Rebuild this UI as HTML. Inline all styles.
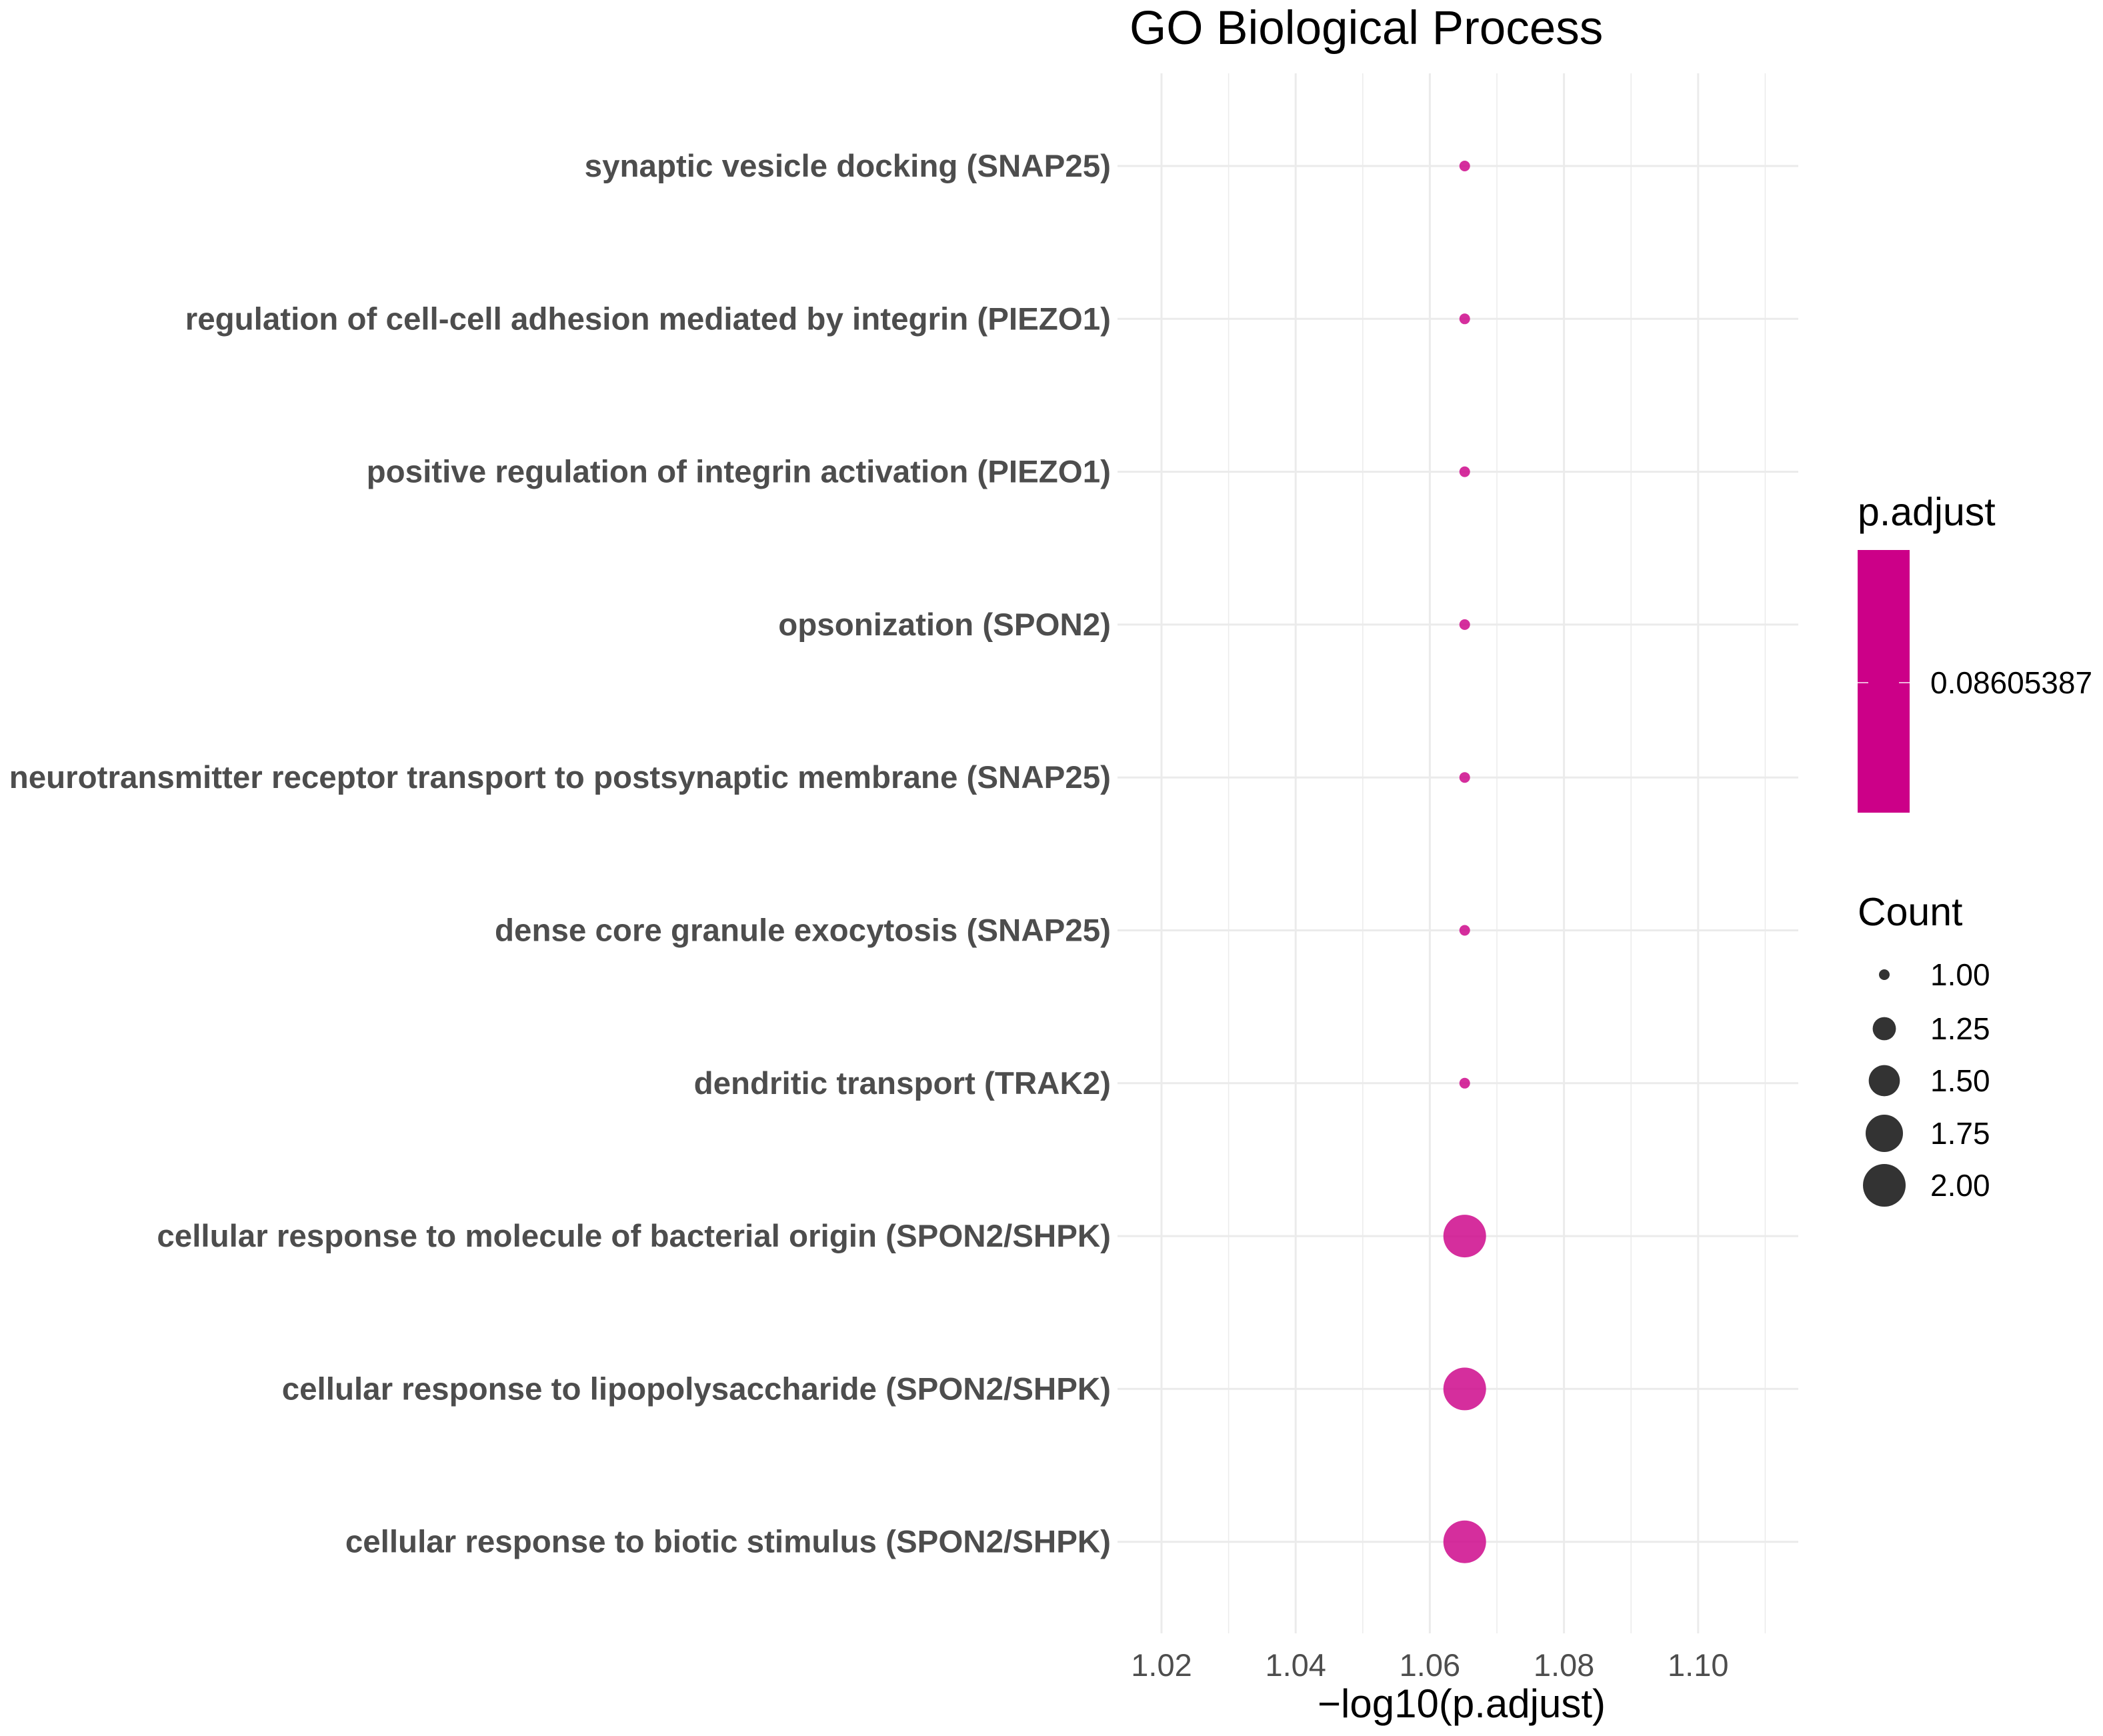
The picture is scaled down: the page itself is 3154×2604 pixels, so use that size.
<!DOCTYPE html>
<html><head><meta charset="utf-8"><style>
body{margin:0;background:#fff}
svg{display:block;font-family:"Liberation Sans",Arial,sans-serif}
</style></head><body>
<svg id="chart" width="3154" height="2604" viewBox="0 0 3154 2604">
<rect width="3154" height="2604" fill="#fff"/>
<text x="1694" y="66" font-size="71" fill="#000">GO Biological Process</text>
<g id="grid"></g><g id="ylabels"></g><g id="xticks"></g><g id="dots"></g>
<text x="2192" y="2576" font-size="60" fill="#000" text-anchor="middle">−log10(p.adjust)</text>
<g>
<text x="2786" y="788" font-size="59" fill="#000">p.adjust</text>
<rect x="2786" y="825" width="78" height="394" fill="#cc0088"/>
<line x1="2786" y1="1024" x2="2802" y2="1024" stroke="#fff" stroke-width="2" opacity="0.7"/>
<line x1="2848" y1="1024" x2="2864" y2="1024" stroke="#fff" stroke-width="2" opacity="0.7"/>
<text x="2895" y="1040" font-size="46" fill="#000">0.08605387</text>
</g>
<g id="sizelegend">
<text x="2786" y="1388" font-size="59" fill="#000">Count</text>
</g>
</svg>
<script>
const categories=["synaptic vesicle docking (SNAP25)","regulation of cell-cell adhesion mediated by integrin (PIEZO1)","positive regulation of integrin activation (PIEZO1)","opsonization (SPON2)","neurotransmitter receptor transport to postsynaptic membrane (SNAP25)","dense core granule exocytosis (SNAP25)","dendritic transport (TRAK2)","cellular response to molecule of bacterial origin (SPON2/SHPK)","cellular response to lipopolysaccharide (SPON2/SHPK)","cellular response to biotic stimulus (SPON2/SHPK)"];
const xValues=[1.0652,1.0652,1.0652,1.0652,1.0652,1.0652,1.0652,1.0652,1.0652,1.0652];
const counts=[1,1,1,1,1,1,1,2,2,2];
const xTicks=[1.02,1.04,1.06,1.08,1.10];
const xTickLabels=["1.02","1.04","1.06","1.08","1.10"];
const sizeBreaks=[1.00,1.25,1.50,1.75,2.00];
const sizeLabels=["1.00","1.25","1.50","1.75","2.00"];
const NS="http://www.w3.org/2000/svg";
function X(v){return 1742+(v-1.02)/0.02*201.2;}
function Y(i){return 249+i*229.3;}
function R(c){const rmin=8,rmax=32;const t=(c-1)/(2-1);return Math.sqrt(rmin*rmin+t*(rmax*rmax-rmin*rmin));}
function mk(tag,attrs,parent){const e=document.createElementNS(NS,tag);for(const k in attrs)e.setAttribute(k,attrs[k]);parent.appendChild(e);return e;}
const grid=document.getElementById('grid');
const panelTop=110,panelBot=2450,panelLeft=1676,panelRight=2697;
for(let k=2;k<=11;k++){
  const v=1+k*0.01;
  const major=(k%2)===0;
  const l=mk('line',{x1:X(v),x2:X(v),y1:panelTop,y2:panelBot,stroke:'#ebebeb','stroke-width':major?3:1.5},grid);
  
  
}
const ylab=document.getElementById('ylabels');
const labelEls=[];
categories.forEach((c,i)=>{
  const l=mk('line',{x1:panelLeft,x2:panelRight,y1:Y(i),y2:Y(i),stroke:'#ebebeb','stroke-width':3},grid);
  
  
  const t=mk('text',{x:1666,y:Y(i)+16,'font-size':44,'font-weight':'bold',fill:'#4d4d4d','text-anchor':'end'},ylab);
  t.textContent=c;
  
  
  labelEls.push(t);
});
try{
  const w=labelEls[0].getComputedTextLength();
  if(w>0){const fs=44*789/w;labelEls.forEach(t=>t.setAttribute('font-size',fs.toFixed(1)));}
}catch(e){}
xTicks.forEach((v,i)=>{
  const t=mk('text',{x:X(v),y:2514,'font-size':47,fill:'#4d4d4d','text-anchor':'middle'},document.getElementById('xticks'));
  t.textContent=xTickLabels[i];
  
  
});
categories.forEach((c,i)=>{
  const d=mk('circle',{cx:X(xValues[i]),cy:Y(i),r:R(counts[i]),fill:'#cc0088','fill-opacity':0.82},document.getElementById('dots'));
  
  
});
const sl=document.getElementById('sizelegend');
const ly=[1462,1543,1621,1700,1778];
sizeBreaks.forEach((b,i)=>{
  const d=mk('circle',{cx:2826,cy:ly[i],r:R(b),fill:'#333'},sl);
  
  
  const t=mk('text',{x:2895,y:ly[i]+16,'font-size':46,fill:'#000'},sl);
  t.textContent=sizeLabels[i];
  
  
});
</script>
</body></html>
